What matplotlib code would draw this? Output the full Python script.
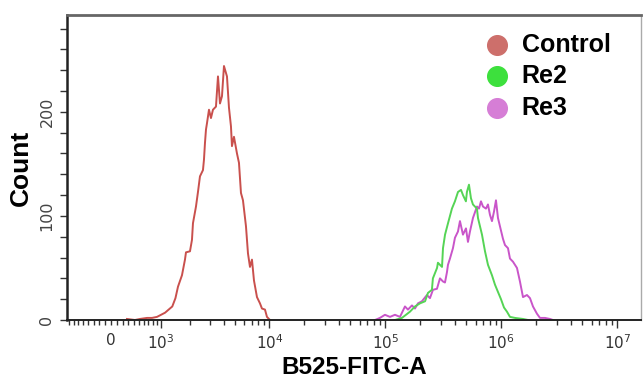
import matplotlib
matplotlib.use("Agg")
import matplotlib.pyplot as plt
import numpy as np
from matplotlib import font_manager
from matplotlib.ticker import FixedLocator, FuncFormatter

# fluorescence (B525-FITC-A) bin positions and counts
ctrl_x = [278, 426, 524, 670, 782, 902, 1113, 1328, 1430, 1516, 1659, 1773, 1813,
          1978, 2065, 2110, 2250, 2347, 2448, 2607, 2662, 2718, 2776, 2834, 2954,
          3078, 3207, 3411, 3554, 3702, 3856, 4015, 4267, 4443, 4626, 4720, 4915,
          5221, 5436, 5658, 5890, 6256, 6511, 6777, 7054, 7341, 7795, 8276, 8613,
          9144, 9515, 10100]
ctrl_y = [1, 0, 1, 2, 2, 3, 7, 13, 21, 32, 43, 58, 65, 66, 77, 93, 109, 123, 138,
          144, 154, 170, 183, 189, 202, 194, 202, 205, 234, 208, 215, 244, 234, 204,
          186, 167, 176, 160, 151, 122, 115, 90, 64, 51, 58, 38, 22, 16, 11, 10, 3, 0]

re2_x = [1.21e5, 1.39e5, 1.63e5, 1.80e5, 1.99e5, 2.20e5, 2.33e5, 2.52e5, 2.57e5,
         2.79e5, 2.84e5, 3.08e5, 3.14e5, 3.27e5, 3.47e5, 3.75e5, 3.98e5, 4.23e5,
         4.49e5, 4.67e5, 4.95e5, 5.05e5, 5.26e5, 5.47e5, 5.69e5, 6.16e5, 6.29e5,
         6.81e5, 7.23e5, 7.67e5, 8.30e5, 8.81e5, 9.35e5, 9.93e5, 1.054e6, 1.118e6,
         1.187e6, 1.311e6, 1.537e6, 1.697e6]
re2_y = [0, 2, 8, 13, 16, 18, 26, 29, 40, 50, 55, 51, 69, 82, 93, 107, 114, 123,
         125, 120, 114, 123, 130, 117, 111, 107, 98, 82, 66, 53, 43, 34, 27, 20, 12,
         8, 3, 2, 1, 0]

re3_x = [8.14e4, 8.98e4, 9.92e4, 1.096e5, 1.210e5, 1.337e5, 1.476e5, 1.566e5,
         1.696e5, 1.800e5, 1.911e5, 2.068e5, 2.284e5, 2.424e5, 2.573e5, 2.786e5,
         2.957e5, 3.139e5, 3.266e5, 3.398e5, 3.466e5, 3.606e5, 3.827e5, 3.982e5,
         4.227e5, 4.398e5, 4.668e5, 4.955e5, 5.155e5, 5.364e5, 5.693e5, 6.164e5,
         6.414e5, 6.674e5, 6.944e5, 7.370e5, 7.668e5, 7.980e5, 8.303e5, 8.639e5,
         8.989e5, 9.353e5, 9.926e5, 1.033e6, 1.075e6, 1.141e6, 1.187e6, 1.260e6,
         1.364e6, 1.447e6, 1.537e6, 1.663e6, 1.766e6, 1.874e6, 2.029e6, 2.154e6,
         2.378e6, 2.626e6, 2.788e6]
re3_y = [0, 2, 5, 3, 5, 3, 13, 10, 14, 11, 16, 18, 24, 21, 29, 30, 40, 37, 36, 46,
         53, 59, 69, 79, 85, 95, 82, 88, 75, 85, 98, 109, 107, 114, 109, 107, 111,
         101, 95, 104, 115, 98, 86, 78, 72, 69, 59, 56, 50, 37, 22, 24, 21, 13, 6, 2,
         2, 1, 0]

names = ["Control", "Re2", "Re3"]
line_colors = ["#c9504d", "#55d455", "#c955c9"]
dot_colors = ["#cd6f6b", "#3de03d", "#d67ed6"]

major_vals = [1e3, 1e4, 1e5, 1e6, 1e7]
major_labels = ["$\\mathregular{10^3}$", "$\\mathregular{10^4}$", "$\\mathregular{10^5}$",
                "$\\mathregular{10^6}$", "$\\mathregular{10^7}$"]

avail = {f.name for f in font_manager.fontManager.ttflist}
narrow = "DejaVu Sans"
for cand in ["Liberation Sans Narrow", "DejaVu Sans Condensed"]:
    if cand in avail:
        narrow = cand
        break
bold_font = "Liberation Sans"


def fwd(v):
    # biexponential-like display (arcsinh)
    return np.arcsinh(np.asarray(v, dtype=float) / 862.0) / np.log(10)


def inv(u):
    return 862.0 * np.sinh(np.asarray(u, dtype=float) * np.log(10))


fig = plt.figure(figsize=(6.43, 3.81), dpi=100)
ax = fig.add_axes([67 / 643, 61 / 381, 574 / 643, 305 / 381])
ax.set_xscale("function", functions=(fwd, inv))

ax.plot(ctrl_x, ctrl_y, color=line_colors[0], lw=1.4)
ax.plot(re3_x, re3_y, color=line_colors[2], lw=1.4)
ax.plot(re2_x, re2_y, color=line_colors[1], lw=1.4)

ax.set_xlim(-852, 1.6e7)
ax.set_ylim(0, 293)

# ticks
minor = list(np.arange(-800, 1000, 100))
for e in range(3, 8):
    for m in range(2, 10):
        if m * 10 ** e < 1.6e7:
            minor.append(m * 10 ** e)
ax.xaxis.set_major_locator(FixedLocator(major_vals))
ax.xaxis.set_major_formatter(FuncFormatter(lambda v, p: major_labels[p] if p is not None and p < len(major_labels) else ""))
ax.xaxis.set_minor_locator(FixedLocator(minor))
ax.xaxis.set_minor_formatter(FuncFormatter(lambda v, p: "0" if abs(v) < 1 else ""))

ax.yaxis.set_major_locator(FixedLocator([0, 100, 200]))
ax.yaxis.set_minor_locator(FixedLocator(list(range(20, 300, 20))))

ax.tick_params(axis="x", which="major", length=6, width=1, pad=3.5, color="#333333",
               labelsize=11, labelcolor="#333333")
ax.tick_params(axis="x", which="minor", length=3.5, width=1, pad=6, color="#333333",
               labelsize=11, labelcolor="#333333")
ax.tick_params(axis="y", which="both", length=5, width=1, pad=4, color="#333333",
               labelsize=11.5, labelcolor="#444444")
for lab in ax.get_xticklabels(which="both") + ax.get_yticklabels():
    lab.set_fontfamily(narrow)
for lab in ax.get_yticklabels():
    lab.set_rotation(90)
    lab.set_va("center")

ax.spines["left"].set_color("#222222")
ax.spines["left"].set_linewidth(1.8)
ax.spines["bottom"].set_color("#222222")
ax.spines["bottom"].set_linewidth(1.4)
ax.spines["top"].set_color("#666666")
ax.spines["top"].set_linewidth(2)
ax.spines["right"].set_color("#aaaaaa")
ax.spines["right"].set_linewidth(1)

ax.set_ylabel("Count", fontsize=19, fontweight="bold", family=bold_font, va="center")
ax.yaxis.set_label_coords(-0.080, 0.50)
ax.set_xlabel("B525-FITC-A", fontsize=17.5, fontweight="bold", family=bold_font, va="center")
ax.xaxis.set_label_coords(0.50, -0.155)

# legend drawn by hand
leg_y = [0.902, 0.800, 0.695]
for name, c, yy in zip(names, dot_colors, leg_y):
    ax.scatter([0.7486], [yy], s=200, color=c, transform=ax.transAxes, clip_on=False)
    ax.text(0.7922, yy, name, transform=ax.transAxes, fontsize=18, fontweight="bold",
            family=bold_font, va="center", ha="left")

fig.savefig("out.png", dpi=100)
